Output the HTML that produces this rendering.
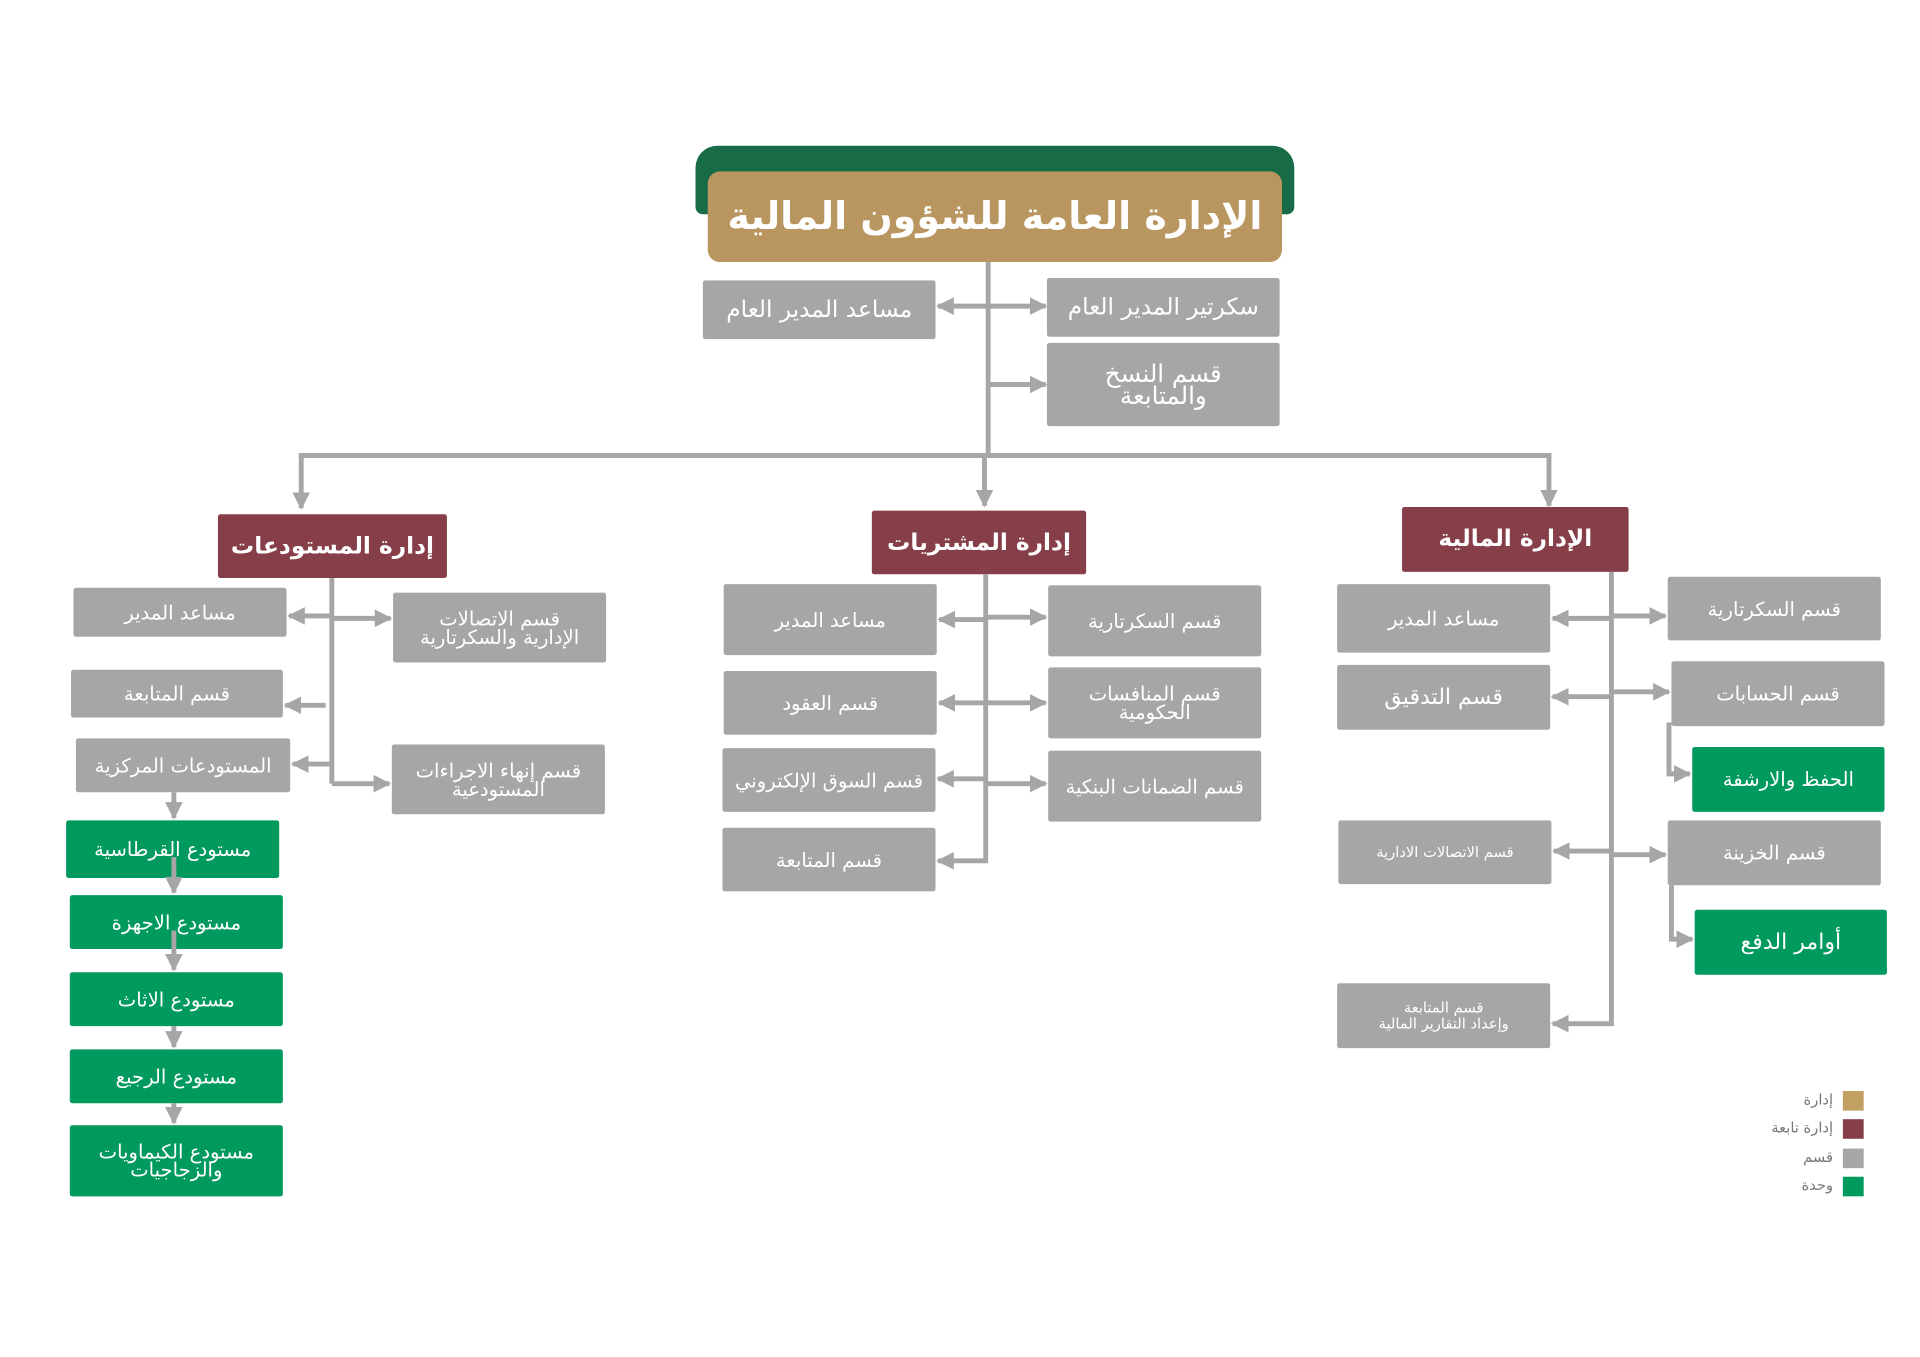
<!DOCTYPE html>
<html><head><meta charset="utf-8">
<style>
html,body{margin:0;padding:0;background:#fff;}
body{width:1920px;height:1357px;overflow:hidden;position:relative;}
#w{position:absolute;left:0;top:0;width:1568px;height:1108px;transform:scale(1.22449);transform-origin:0 0;font-family:"DejaVu Sans","Liberation Sans",sans-serif;}
.b{position:absolute;display:flex;align-items:center;justify-content:center;text-align:center;color:#fff;direction:rtl;font-size:16px;line-height:15px;border-radius:2px;}
.g{background:#a6a6a6;}
.n{background:#009a5e;}
.m{background:#863f48;font-size:19px;font-weight:bold;}
svg{position:absolute;left:0;top:0;}
.lg{position:absolute;font-size:12px;color:#777;direction:rtl;text-align:right;width:100px;}
</style></head><body><div id="w">
<div style="position:absolute;left:568px;top:119px;width:489px;height:56px;background:#176b47;border-radius:18px 18px 6px 6px;"></div>
<div class="b" style="left:578px;top:140px;width:469px;height:74px;background:#b9955f;border-radius:10px;font-size:31px;font-weight:bold;line-height:34px;">الإدارة العامة للشؤون المالية</div>

<div class="b g" style="left:574px;top:229px;width:190px;height:48px;font-size:19px;">مساعد المدير العام</div>
<div class="b g" style="left:855px;top:227px;width:190px;height:48px;font-size:19px;">سكرتير المدير العام</div>
<div class="b g" style="left:855px;top:280px;width:190px;height:68px;font-size:20px;line-height:18px;">قسم النسخ<br>والمتابعة</div>

<div class="b m" style="left:178px;top:420px;width:187px;height:52px;">إدارة المستودعات</div>
<div class="b m" style="left:712px;top:417px;width:175px;height:52px;">إدارة المشتريات</div>
<div class="b m" style="left:1145px;top:414px;width:185px;height:53px;">الإدارة المالية</div>

<div class="b g" style="left:60px;top:480px;width:174px;height:40px;">مساعد المدير</div>
<div class="b g" style="left:321px;top:484px;width:174px;height:57px;">قسم الاتصالات<br>الإدارية والسكرتارية</div>
<div class="b g" style="left:58px;top:547px;width:173px;height:39px;">قسم المتابعة</div>
<div class="b g" style="left:62px;top:603px;width:175px;height:44px;">المستودعات المركزية</div>
<div class="b g" style="left:320px;top:608px;width:174px;height:57px;">قسم إنهاء الاجراءات<br>المستودعية</div>
<div class="b n" style="left:54px;top:670px;width:174px;height:47px;">مستودع القرطاسية</div>
<div class="b n" style="left:57px;top:731px;width:174px;height:44px;">مستودع الاجهزة</div>
<div class="b n" style="left:57px;top:794px;width:174px;height:44px;">مستودع الاثاث</div>
<div class="b n" style="left:57px;top:857px;width:174px;height:44px;">مستودع الرجيع</div>
<div class="b n" style="left:57px;top:919px;width:174px;height:58px;">مستودع الكيماويات<br>والزجاجيات</div>

<div class="b g" style="left:591px;top:477px;width:174px;height:58px;">مساعد المدير</div>
<div class="b g" style="left:591px;top:548px;width:174px;height:52px;">قسم العقود</div>
<div class="b g" style="left:590px;top:611px;width:174px;height:52px;">قسم السوق الإلكتروني</div>
<div class="b g" style="left:590px;top:676px;width:174px;height:52px;">قسم المتابعة</div>
<div class="b g" style="left:856px;top:478px;width:174px;height:58px;">قسم السكرتارية</div>
<div class="b g" style="left:856px;top:545px;width:174px;height:58px;">قسم المنافسات<br>الحكومية</div>
<div class="b g" style="left:856px;top:613px;width:174px;height:58px;">قسم الضمانات البنكية</div>

<div class="b g" style="left:1092px;top:477px;width:174px;height:56px;">مساعد المدير</div>
<div class="b g" style="left:1092px;top:543px;width:174px;height:53px;font-size:18px;">قسم التدقيق</div>
<div class="b g" style="left:1093px;top:670px;width:174px;height:52px;font-size:12px;">قسم الاتصالات الادارية</div>
<div class="b g" style="left:1092px;top:803px;width:174px;height:53px;font-size:12px;line-height:13px;">قسم المتابعة<br>وإعداد التقارير المالية</div>
<div class="b g" style="left:1362px;top:471px;width:174px;height:52px;">قسم السكرتارية</div>
<div class="b g" style="left:1365px;top:540px;width:174px;height:53px;">قسم الحسابات</div>
<div class="b n" style="left:1382px;top:610px;width:157px;height:53px;">الحفظ والارشفة</div>
<div class="b g" style="left:1362px;top:670px;width:174px;height:53px;">قسم الخزينة</div>
<div class="b n" style="left:1384px;top:743px;width:157px;height:53px;font-size:18px;">أوامر الدفع</div>

<svg width="1568" height="1108" viewBox="0 0 1568 1108">
<defs><marker id="a" viewBox="0 0 10 10" refX="9" refY="5" markerWidth="3.6" markerHeight="3.6" orient="auto"><path d="M0,0L10,5L0,10z" fill="#a6a6a6"/></marker></defs>
<g stroke="#a6a6a6" stroke-width="4" fill="none" marker-end="url(#a)">
<path d="M807,250H766"/><path d="M807,250H854"/><path d="M807,314H854"/>
<path d="M246,372V415"/><path d="M804,372V413"/><path d="M1265,372V413"/>
<path d="M271,503H236"/><path d="M271,505H319"/><path d="M266,576H233"/><path d="M271,624H239"/><path d="M271,640H318"/>
<path d="M142,647V668"/><path d="M142,700V729"/><path d="M142,760V792"/><path d="M142,838V855"/><path d="M142,901V917"/>
<path d="M805,506H767"/><path d="M805,574H767"/><path d="M805,636H766"/><path d="M805,703H766"/>
<path d="M805,504H854"/><path d="M805,574H854"/><path d="M805,640H854"/>
<path d="M1316,505H1268"/><path d="M1316,569H1268"/><path d="M1316,695H1269"/><path d="M1316,836H1268"/>
<path d="M1316,503H1360"/><path d="M1316,565H1363"/><path d="M1316,698H1360"/>
<path d="M1363,590V632H1380"/><path d="M1365,723V767H1382"/>
</g>
<g stroke="#a6a6a6" stroke-width="4" fill="none">
<path d="M807,214V372"/><path d="M244,372H1267"/>
<path d="M271,472V640"/><path d="M805,469V705"/><path d="M1316,467V838"/>
</g>
</svg>

<div style="position:absolute;left:1505px;top:891px;width:17px;height:16px;background:#c2a062"></div>
<div style="position:absolute;left:1505px;top:914px;width:17px;height:16px;background:#863f48"></div>
<div style="position:absolute;left:1505px;top:938px;width:17px;height:16px;background:#a6a6a6"></div>
<div style="position:absolute;left:1505px;top:961px;width:17px;height:16px;background:#009a5e"></div>
<div class="lg" style="left:1397px;top:891px;">إدارة</div>
<div class="lg" style="left:1397px;top:914px;">إدارة تابعة</div>
<div class="lg" style="left:1397px;top:938px;">قسم</div>
<div class="lg" style="left:1397px;top:961px;">وحدة</div>
</div></body></html>
